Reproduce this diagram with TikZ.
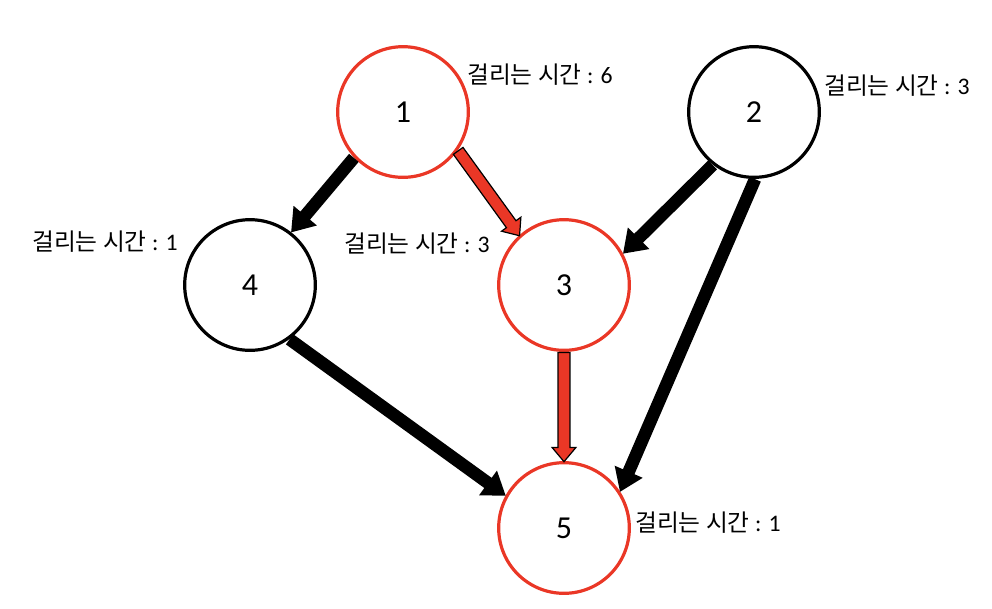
\documentclass[tikz,border=0pt]{standalone}
\usepackage{fontspec}
\setmainfont{Carlito}
\newfontfamily\kor{Noto Sans CJK KR}
\usetikzlibrary{shapes.arrows,calc}

\definecolor{taskred}{RGB}{234,55,38}

%% block arrow from tail node anchor to tip node anchor
\newcommand{\blockarr}[3][]{%
  \path let \p1=($(#3)-(#2)$), \n1={atan2(\y1,\x1)}, \n2={veclen(\x1,\y1)} in
    node[#1,rotate=\n1,minimum height=\n2,anchor=tail] at (#2) {};}

\begin{document}
\begin{tikzpicture}[x=0.75pt,y=-0.75pt,
  task/.style={circle,draw=black,line width=2.4pt,minimum size=98pt,
               inner sep=0pt,font=\fontsize{24}{28}\selectfont},
  crit/.style={task,draw=taskred},
  cost/.style={anchor=west,inner sep=0pt,font=\fontsize{17.8}{20}\selectfont},
  barr/.style={single arrow,fill=black,draw=none,inner xsep=0pt,inner ysep=4.5pt,
               single arrow head extend=6.75pt,single arrow tip angle=70,
               single arrow head indent=0pt},
  rarr/.style={single arrow,fill=taskred,draw=black,line width=0.9pt,
               inner xsep=0pt,inner ysep=4pt,single arrow head extend=4.5pt,
               single arrow tip angle=80,single arrow head indent=0pt}]
\useasboundingbox (0,0) rectangle (992,608);
%%
%% Tasks
\node[crit](n1) at (403,112) {1};
\node[task](n2) at (754,112) {2};
\node[crit](n3) at (564,285) {3};
\node[task](n4) at (250,285) {4};
\node[crit](n5) at (564,528) {5};
%%
%% Durations
\node[cost](c1) at (467,75)  {{\kor 걸리는 시간} : 6};
\node[cost](c2) at (824,86)  {{\kor 걸리는 시간} : 3};
\node[cost](c3) at (344,244) {{\kor 걸리는 시간} : 3};
\node[cost](c4) at (32,242)  {{\kor 걸리는 시간} : 1};
\node[cost](c5) at (635,523) {{\kor 걸리는 시간} : 1};
%%
%% Dependencies
\blockarr[barr]{n1.223}{n4.52}
\blockarr[rarr]{n1.325}{n3.132}
\blockarr[barr]{n2.232}{n3.28}
\blockarr[barr]{n2.271}{n5.33}
\blockarr[barr]{n4.306}{n5.151}
\blockarr[rarr]{n3.270}{n5.90}
\end{tikzpicture}
\end{document}
